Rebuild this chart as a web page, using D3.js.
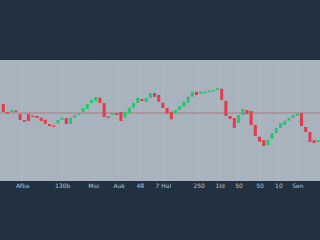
<!DOCTYPE html>
<html>
<head>
<meta charset="utf-8">
<script src="https://cdn.jsdelivr.net/npm/d3@7"></script>
<style>
  html, body { margin: 0; padding: 0; background: #223142; }
  svg { display: block; }
</style>
</head>
<body>
<svg id="chart"></svg>
<script>
// candle data (price units), one entry per session
var opens = [96, 88, 88, 89.5, 86, 80, 86, 84.5, 84, 82.3, 80.3, 76, 74.5, 76.5, 80, 82, 76, 82.3, 85,
  88, 91, 97, 99, 102.3, 97, 83.5, 85, 87, 88, 82.3, 87, 92.3, 97, 101, 98, 102, 107, 105, 97.3, 92,
  88.3, 87, 90, 93.3, 97.3, 103.3, 108.3, 106, 107.3, 108, 109, 110, 111.3, 99.3, 84, 82, 77, 85, 90,
  89, 75, 63.3, 60, 55, 61, 67, 72, 75, 79.3, 82, 84, 87, 73, 68, 60, 58];
var closes = [88, 86.5, 90, 88.5, 80, 78, 79, 83.5, 82, 79, 76.3, 74, 73.5, 80, 82.5, 76, 82.3, 85, 86.5,
  92, 96, 100, 103, 97, 83, 82.5, 87, 85, 79, 88, 92.3, 97, 102, 99, 102, 107, 103, 98.3, 92, 86.7,
  80.7, 90, 94, 98.3, 103.3, 108.3, 105, 108.3, 108.3, 109.3, 110, 112, 100, 84, 81, 72, 85, 91, 86,
  75, 64, 58.3, 54, 60, 67, 72, 77, 79.3, 82, 85, 87, 74, 68, 58, 57, 60];
var refLevel = 87;

var tickIdx = [4.5, 14, 21.5, 27.5, 32.5, 38, 46.5, 51.5, 56, 61, 65.5, 70];
var tickLabels = ["Afba", "130b", "Msc", "Auk", "48", "7 Hal", "250", "1Id", "50", "50", "10", "Sen"];

var W = 320, H = 240;
var plotTop = 60, plotBottom = 181;

var svg = d3.select("#chart").attr("width", W).attr("height", H);

svg.append("rect").attr("width", W).attr("height", H).attr("fill", "#223142");
svg.append("rect")
  .attr("x", 0).attr("y", plotTop)
  .attr("width", W).attr("height", plotBottom - plotTop)
  .attr("fill", "#a8b3be");

var x = d3.scaleLinear().domain([-0.5, opens.length - 0.5]).range([1.2, 320.4]);
var y = d3.scaleLinear().domain([19, 140]).range([plotBottom, plotTop]);

// faint vertical grid at tick positions
svg.append("g").selectAll("line")
  .data(tickIdx)
  .enter().append("line")
  .attr("x1", d => x(d)).attr("x2", d => x(d))
  .attr("y1", plotTop).attr("y2", plotBottom)
  .attr("stroke", "#ffffff").attr("stroke-opacity", 0.1);

// reference line
svg.append("line")
  .attr("x1", 0).attr("x2", W)
  .attr("y1", y(refLevel)).attr("y2", y(refLevel))
  .attr("stroke", "#b56a70").attr("stroke-width", 1).attr("stroke-opacity", 0.85);

// candles
var step = x(1) - x(0), bw = step * 0.72;
var candles = d3.range(opens.length).map(i => ({ i: i, o: opens[i], c: closes[i] }));
svg.append("g").selectAll("rect")
  .data(candles)
  .enter().append("rect")
  .attr("x", d => x(d.i) - bw / 2)
  .attr("width", bw)
  .attr("y", d => y(Math.max(d.o, d.c)))
  .attr("height", d => Math.max(1.5, Math.abs(y(d.o) - y(d.c))))
  .attr("fill", d => d.c >= d.o ? "#2bc46e" : "#e23c4c");

// x axis labels
var axis = d3.axisBottom(x).tickValues(tickIdx).tickFormat((d, i) => tickLabels[i]).tickSize(0).tickPadding(3);
var gx = svg.append("g").attr("transform", `translate(0,${plotBottom})`).call(axis);
gx.select(".domain").remove();
gx.selectAll("text")
  .attr("fill", "#b9c3cd")
  .style("font-family", "DejaVu Sans, sans-serif")
  .style("font-size", "6px");
</script>
</body>
</html>
